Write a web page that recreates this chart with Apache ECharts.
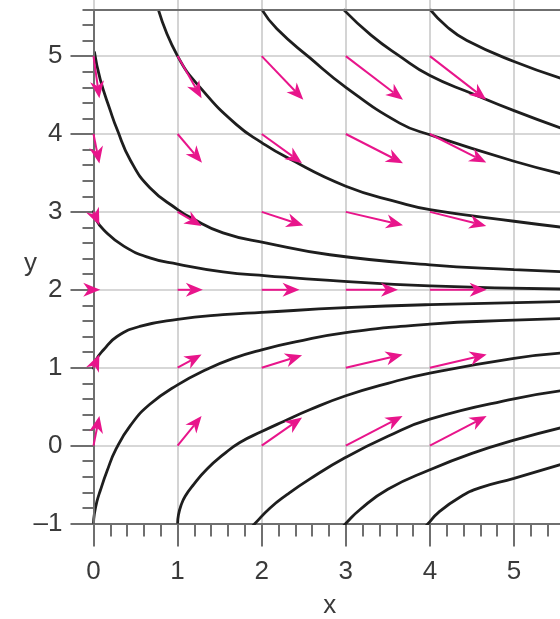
<!DOCTYPE html>
<html>
<head>
    <meta charset="utf-8"/>
    <script type="text/javascript" src="https://cdn.jsdelivr.net/npm/echarts/dist/echarts.min.js"></script>
    <style>
        html, body {
            margin: 0;
            padding: 0;
            background: #fff;
        }

        #main {
            width: 560px;
            height: 619px;
        }
    </style>
</head>

<body>
<div id="main"></div>
<script type="text/javascript">
    // 坐标轴范围 (图右侧和上方被裁掉)
    var xMin = 0, xMax = 6;
    var yMin = -1, yMax = 6;
    var yTop = 5.6;

    // 斜率场箭头: 网格点, 每个箭头的 dx / dy (按行: y = 0..5)
    var arrowCols = [0, 1, 2, 3, 4];
    var arrowRows = [0, 1, 2, 3, 4, 5];
    var arrowDx = [
        [0.07, 0.285, 0.48, 0.675, 0.675],
        [0.07, 0.285, 0.48, 0.675, 0.675],
        [0.08, 0.30, 0.45, 0.62, 0.675],
        [0.07, 0.285, 0.495, 0.68, 0.67],
        [0.07, 0.29, 0.48, 0.68, 0.67],
        [0.07, 0.285, 0.495, 0.68, 0.67]
    ];
    var arrowDy = [
        [0.38, 0.38, 0.36, 0.38, 0.38],
        [0.17, 0.17, 0.16, 0.17, 0.17],
        [0, 0, 0, 0, 0],
        [-0.17, -0.18, -0.175, -0.17, -0.18],
        [-0.38, -0.37, -0.375, -0.375, -0.367],
        [-0.54, -0.54, -0.56, -0.56, -0.56]
    ];

    // 解曲线
    var curveU0 = [[0, 3.02], [0.03, 2.9], [0.12, 2.77], [0.36, 2.56], [0.67, 2.41], [1, 2.33], [1.54, 2.23],
        [2.06, 2.18], [2.81, 2.12], [4, 2.05], [5.6, 2.01]];
    var curveU1 = [[0.01, 5.06], [0.08, 4.7], [0.2, 4.3], [0.28, 4.06], [0.44, 3.66], [0.67, 3.31], [1, 3.03],
        [1.15, 2.93], [1.54, 2.73], [2.06, 2.6], [2.81, 2.45], [4, 2.32], [5, 2.26], [5.6, 2.23]];
    var curveU2 = [[0.77, 5.6], [1, 5.0], [1.29, 4.57], [1.7, 4.12], [2, 3.89], [2.28, 3.71], [3, 3.33],
        [3.64, 3.12], [4, 3.03], [5, 2.88], [5.6, 2.8]];
    var curveU3 = [[2, 5.6], [2.18, 5.35], [2.57, 4.98], [3, 4.6], [3.64, 4.14], [4, 3.99], [5, 3.65], [5.6, 3.48]];
    var curveU4 = [[2.97, 5.6], [3.3, 5.27], [3.64, 5.0], [4, 4.75], [4.5, 4.52], [5, 4.3], [5.6, 4.06]];
    var curveU5 = [[4, 5.6], [4.2, 5.38], [4.44, 5.2], [5, 4.93], [5.6, 4.7]];
    var curveL0 = [[0, 0.98], [0.03, 1.1], [0.12, 1.23], [0.28, 1.4], [0.55, 1.53], [1, 1.62], [1.54, 1.68],
        [2, 1.71], [3, 1.77], [4, 1.81], [5.6, 1.85]];
    var curveL1 = [[0, -1], [0.01, -0.88], [0.04, -0.72], [0.08, -0.58], [0.16, -0.33], [0.27, -0.04], [0.44, 0.26],
        [0.67, 0.53], [1, 0.78], [1.35, 0.98], [1.66, 1.12], [2, 1.23], [2.4, 1.33], [3, 1.45], [4, 1.56],
        [5, 1.61], [5.6, 1.63]];
    var curveL2 = [[1, -1], [1.01, -0.89], [1.04, -0.77], [1.09, -0.65], [1.19, -0.5], [1.35, -0.3], [1.55, -0.11],
        [1.74, 0.04], [2, 0.18], [2.26, 0.31], [2.57, 0.46], [3, 0.64], [3.5, 0.8], [4, 0.93], [5, 1.12], [5.6, 1.19]];
    var curveL3 = [[1.85, -1.08], [1.92, -1.0], [2.1, -0.8], [2.3, -0.63], [2.57, -0.43], [3, -0.15],
        [3.5, 0.12], [4, 0.34], [5, 0.6], [5.6, 0.71]];
    var curveL4 = [[2.9, -1.12], [3.0, -1.0], [3.17, -0.82], [3.5, -0.56], [4, -0.31], [4.5, -0.1], [5, 0.07],
        [5.6, 0.24]];
    var curveL5 = [[3.9, -1.1], [3.98, -1], [4.1, -0.86], [4.36, -0.66], [4.6, -0.54], [5, -0.42], [5.6, -0.23]];

    var curves = [curveU0, curveU1, curveU2, curveU3, curveU4, curveU5,
        curveL0, curveL1, curveL2, curveL3, curveL4, curveL5];

    var arrowData = [];
    for (var j = 0; j < arrowRows.length; j++) {
        for (var i = 0; i < arrowCols.length; i++) {
            arrowData.push([arrowCols[i], arrowRows[j], arrowDx[j][i], arrowDy[j][i]]);
        }
    }

    var axisColor = '#6f6f6f';
    var labelFont = {
        fontFamily: 'Liberation Sans',
        fontSize: 26,
        color: '#3a3a3a'
    };

    function renderArrow(params, api) {
        var x = api.value(0), y = api.value(1);
        var p0 = api.coord([x, y]);
        var p1 = api.coord([x + api.value(2), y + api.value(3)]);
        var ang = Math.atan2(p1[1] - p0[1], p1[0] - p0[0]);
        var c = Math.cos(ang), s = Math.sin(ang);
        var len = 17, half = 7, notch = 12;

        function pt(a, b) {
            return [p1[0] - a * c - b * s, p1[1] - a * s + b * c];
        }

        var back = pt(notch, 0);
        return {
            type: 'group',
            children: [{
                type: 'line',
                shape: {x1: p0[0], y1: p0[1], x2: back[0], y2: back[1]},
                style: {stroke: '#e8158b', lineWidth: 2}
            }, {
                type: 'polygon',
                shape: {points: [p1, pt(len, half), back, pt(len, -half)]},
                style: {fill: '#e8158b'}
            }]
        };
    }

    var myChart = echarts.init(document.getElementById('main'));

    var series = curves.map(function (c) {
        return {
            type: 'line',
            data: c,
            smooth: 0.5,
            showSymbol: false,
            symbol: 'none',
            silent: true,
            lineStyle: {color: '#1e1e1e', width: 2.8},
            z: 3
        };
    });

    // 上边框和左轴线
    series[0].markLine = {
        silent: true,
        symbol: 'none',
        animation: false,
        label: {show: false},
        lineStyle: {color: axisColor, width: 2, type: 'solid'},
        data: [
            {yAxis: yTop},
            [{coord: [0, yMin]}, {coord: [0, yTop]}]
        ]
    };

    series.push({
        type: 'custom',
        renderItem: renderArrow,
        data: arrowData,
        silent: true,
        clip: false,
        z: 5
    });

    option = {
        animation: false,
        grid: {
            left: 93.5,
            right: -38.1,
            top: -21.8,
            bottom: 95.5,
            containLabel: false,
            outerBoundsMode: 'none'
        },
        xAxis: {
            type: 'value',
            min: xMin,
            max: xMax,
            interval: 1,
            name: 'x',
            nameLocation: 'middle',
            nameGap: 69,
            nameMoveOverlap: false,
            nameTextStyle: Object.assign({padding: [0, 32, 0, 0]}, labelFont),
            axisLine: {show: true, onZero: false, lineStyle: {color: axisColor, width: 2}},
            axisTick: {show: true, length: 23, lineStyle: {color: axisColor, width: 2}},
            minorTick: {show: true, splitNumber: 5, length: 13, lineStyle: {color: axisColor, width: 2}},
            axisLabel: Object.assign({margin: 35}, labelFont),
            splitLine: {show: true, lineStyle: {color: '#cacaca', width: 1.6}},
            minorSplitLine: {show: false}
        },
        yAxis: {
            type: 'value',
            min: yMin,
            max: yMax,
            interval: 1,
            name: 'y',
            nameLocation: 'middle',
            nameRotate: 0,
            nameGap: 63,
            nameMoveOverlap: false,
            nameTextStyle: Object.assign({align: 'center', verticalAlign: 'top'}, labelFont),
            axisLine: {show: false},
            axisTick: {show: true, length: 23, lineStyle: {color: axisColor, width: 2}},
            minorTick: {show: true, splitNumber: 5, length: 11, lineStyle: {color: axisColor, width: 2}},
            axisLabel: Object.assign({
                margin: 31,
                formatter: function (v) {
                    return String(v).replace('-', '\u2013');
                }
            }, labelFont),
            splitLine: {show: true, lineStyle: {color: '#cacaca', width: 1.6}},
            minorSplitLine: {show: false}
        },
        series: series
    };

    myChart.setOption(option);
</script>
</body>
</html>
